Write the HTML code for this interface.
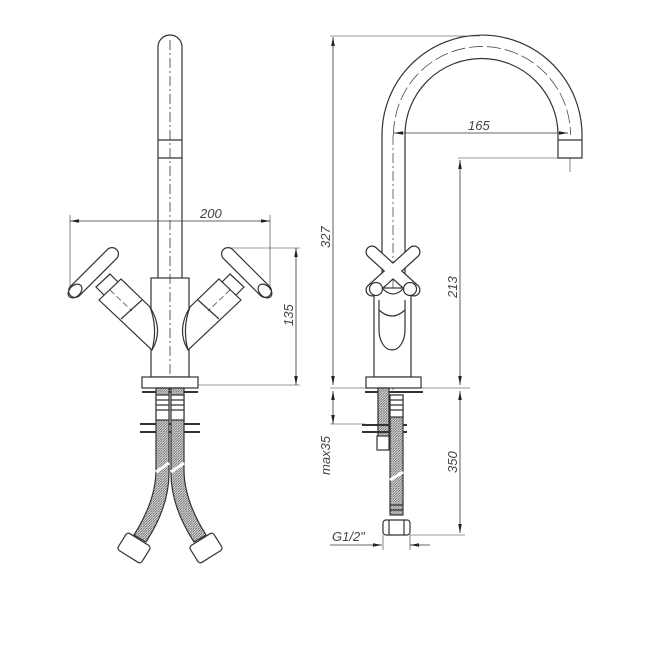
<!DOCTYPE html>
<html><head><style>
html,body{margin:0;padding:0;background:#fff;}
svg{display:block;}
text{font-family:"Liberation Sans",sans-serif;font-style:italic;fill:#444;font-size:13px;}
</style></head><body>
<svg width="650" height="650" viewBox="0 0 650 650" xmlns="http://www.w3.org/2000/svg">
<defs>
<marker id="a" viewBox="0 0 10 10" refX="10" refY="5" markerWidth="9" markerHeight="9" orient="auto-start-reverse" markerUnits="userSpaceOnUse"><path d="M0,3 L10,5 L0,7 z" fill="#222"/></marker>
<pattern id="h" width="2.5" height="2.5" patternUnits="userSpaceOnUse"><rect width="3" height="3" fill="#ddd"/><path d="M0,2.5 L2.5,0" stroke="#666" stroke-width="0.8"/></pattern>
</defs>
<g fill="none" stroke="#333" stroke-width="1.2">
<!-- LEFT VIEW -->
<path d="M158,278 V47 A12,12 0 0 1 182,47 V278" fill="#fff"/>
<line x1="158" y1="140" x2="182" y2="140"/><line x1="158" y1="158" x2="182" y2="158"/>
<line x1="170" y1="40" x2="170" y2="390" stroke-dasharray="10,3,2,3" stroke-width="0.8"/>
<rect x="151" y="278" width="38" height="99" fill="none"/>
<rect x="142" y="377" width="56" height="11" fill="#fff"/>
<g id="lh">
 <path d="M99,300 L121,279 L150,307 Q164,330 152,350 Z" fill="#fff"/>
 <path d="M150,307 Q158,328 152,350"/>
 <line x1="121" y1="319" x2="142" y2="300"/>
 <path d="M104,295 L96,287 L110,274 L118,282"/>
 <line x1="75" y1="291" x2="112" y2="254" stroke-width="14" stroke-linecap="round"/>
 <line x1="75" y1="291" x2="112" y2="254" stroke="#fff" stroke-width="11.6" stroke-linecap="round"/>
 <ellipse cx="75" cy="291" rx="8" ry="5.5" transform="rotate(-45 75 291)"/>
 <line x1="110" y1="290" x2="132" y2="311" stroke-dasharray="6,3" stroke-width="0.7"/>
</g>
<use href="#lh" transform="translate(340,0) scale(-1,1)"/>
<!-- dims left -->
<line x1="70" y1="221" x2="270" y2="221" stroke-width="0.8" marker-start="url(#a)" marker-end="url(#a)"/>
<line x1="70" y1="215" x2="70" y2="290" stroke-width="0.6"/>
<line x1="270" y1="215" x2="270" y2="290" stroke-width="0.6"/>
<line x1="296" y1="248" x2="296" y2="385" stroke-width="0.8" marker-start="url(#a)" marker-end="url(#a)"/>
<line x1="230" y1="248" x2="300" y2="248" stroke-width="0.6"/>
<line x1="198" y1="385" x2="300" y2="385" stroke-width="0.6"/>
<!-- left hoses -->
<line x1="142" y1="392" x2="198" y2="392" stroke-width="2"/>
<line x1="140" y1="424" x2="200" y2="424" stroke-width="2"/>
<line x1="140" y1="432" x2="200" y2="432" stroke-width="2"/>
<path d="M156,388 V470 Q156,500 134,535 L146,542 Q170,505 169,470 V388 Z" fill="url(#h)"/>
<path d="M171,388 V470 Q170,505 194,542 L206,535 Q184,500 184,470 V388 Z" fill="url(#h)"/>
<rect x="156" y="395" width="13" height="25" fill="#fff"/><rect x="171" y="395" width="13" height="25" fill="#fff"/>
<path d="M156,400 h13 M156,405 h13 M156,410 h13 M171,400 h13 M171,405 h13 M171,410 h13"/>
<path d="M156,472 L169,463 M171,472 L184,463" stroke="#fff" stroke-width="3"/>
<rect x="120" y="538" width="28" height="20" rx="3" transform="rotate(32 134 548)" fill="#fff"/>
<rect x="192" y="538" width="28" height="20" rx="3" transform="rotate(-32 206 548)" fill="#fff"/>
<!-- RIGHT VIEW -->
<path d="M382,288 V135 A100,100 0 0 1 582,135 V158 H558 V135 A76.5,76.5 0 0 0 405,135 V288" fill="#fff"/>
<line x1="558" y1="140" x2="582" y2="140"/>
<path d="M393.5,135 A88.5,88.5 0 0 1 570.5,135" stroke-dasharray="14,4" stroke-width="0.7"/>
<line x1="393" y1="135" x2="393" y2="390" stroke-dasharray="10,3,2,3" stroke-width="0.7"/>
<line x1="570" y1="158" x2="570" y2="172" stroke-width="0.6"/>
<rect x="374" y="288" width="37" height="89" fill="#fff"/>
<path d="M379,300 V330 A13,20 0 0 0 405,330 V300"/>
<path d="M379,310 Q392,322 405,310"/>
<line x1="372" y1="252" x2="414" y2="290" stroke-width="13" stroke-linecap="round"/>
<line x1="414" y1="252" x2="372" y2="290" stroke-width="13" stroke-linecap="round"/>
<line x1="372" y1="252" x2="414" y2="290" stroke="#fff" stroke-width="10.6" stroke-linecap="round"/>
<line x1="414" y1="252" x2="372" y2="290" stroke="#fff" stroke-width="10.6" stroke-linecap="round"/>
<circle cx="376" cy="289" r="6.5" fill="#fff"/><circle cx="410" cy="289" r="6.5" fill="#fff"/>
<path d="M382,288 Q393,300 404,288"/>
<rect x="366" y="377" width="55" height="11" fill="#fff"/>
<!-- dims right -->
<line x1="333" y1="37" x2="333" y2="385" stroke-width="0.8" marker-start="url(#a)" marker-end="url(#a)"/>
<line x1="330" y1="36" x2="480" y2="36" stroke-width="0.6"/>
<line x1="330" y1="388" x2="470" y2="388" stroke-width="0.6"/>
<line x1="394" y1="133" x2="568" y2="133" stroke-width="0.8" marker-start="url(#a)" marker-end="url(#a)"/>
<line x1="460" y1="160" x2="460" y2="385" stroke-width="0.8" marker-start="url(#a)" marker-end="url(#a)"/>
<line x1="458" y1="158" x2="558" y2="158" stroke-width="0.6"/>
<line x1="333" y1="391" x2="333" y2="424" stroke-width="0.8" marker-start="url(#a)" marker-end="url(#a)"/>
<line x1="330" y1="424" x2="365" y2="424" stroke-width="0.6"/>
<line x1="460" y1="391" x2="460" y2="533" stroke-width="0.8" marker-start="url(#a)" marker-end="url(#a)"/>
<line x1="410" y1="535" x2="465" y2="535" stroke-width="0.6"/>
<line x1="330" y1="545" x2="382" y2="545" stroke-width="0.7" marker-end="url(#a)"/>
<line x1="430" y1="545" x2="410" y2="545" stroke-width="0.7" marker-end="url(#a)"/>
<line x1="383" y1="535" x2="383" y2="550" stroke-width="0.6"/><line x1="410" y1="535" x2="410" y2="550" stroke-width="0.6"/>
<!-- right hose -->
<line x1="365" y1="392" x2="423" y2="392" stroke-width="2"/>
<rect x="378" y="388" width="11" height="50" fill="url(#h)"/>
<rect x="377" y="436" width="12" height="14" fill="#fff"/>
<line x1="362" y1="425" x2="407" y2="425" stroke-width="2"/>
<line x1="362" y1="432" x2="407" y2="432" stroke-width="2"/>
<rect x="390" y="395" width="13" height="120" fill="url(#h)"/>
<rect x="390" y="395" width="13" height="22" fill="#fff"/>
<path d="M390,400 h13 M390,405 h13 M390,410 h13 M390,505 h13 M390,510 h13"/>
<path d="M390,480 L403,472" stroke="#fff" stroke-width="3"/>
<rect x="383" y="520" width="27" height="15" rx="3" fill="#fff"/>
<line x1="389" y1="520" x2="389" y2="535"/><line x1="404" y1="520" x2="404" y2="535"/>
</g>
<text x="200" y="218">200</text>
<text transform="translate(293,326) rotate(-90)">135</text>
<text x="468" y="130">165</text>
<text transform="translate(330,248) rotate(-90)">327</text>
<text transform="translate(457,298) rotate(-90)">213</text>
<text transform="translate(330,475) rotate(-90)">max35</text>
<text transform="translate(457,473) rotate(-90)">350</text>
<text x="332" y="541">G1/2"</text>
</svg>
</body></html>
